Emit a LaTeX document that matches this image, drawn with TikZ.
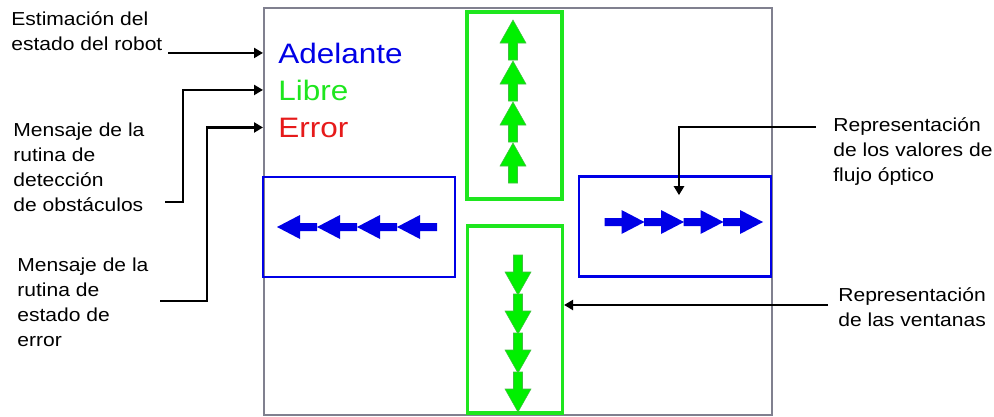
\documentclass[tikz,border=0pt]{standalone}
\usepackage{fontspec}
\setmainfont{Liberation Sans}[FakeStretch=1.12]
\usepackage{xcolor}
\definecolor{azulVent}{HTML}{0000E6}
\definecolor{verdeVent}{HTML}{1EE61E}
\definecolor{verdeFlecha}{HTML}{00F000}
\definecolor{rojoEstado}{HTML}{E61A1A}
\definecolor{grisMarco}{HTML}{80808F}
\usetikzlibrary{arrows.meta}

\begin{document}
\begin{tikzpicture}[x=0.02cm, y=-0.02cm, >={Triangle[length=0.18cm,width=0.2cm]},
  conector/.style={->, line width=1.5pt},
  etiqueta/.style={align=left, anchor=base west, inner sep=0pt, font=\fontsize{10.7}{14.2}\selectfont},
  estado/.style={anchor=base west, inner xsep=0.3cm, inner ysep=0pt, font=\fontsize{16}{19}\selectfont},
  ventAzul/.style={draw=azulVent, line width=1.5pt, minimum width=3.84cm, minimum height=2cm},
  ventVerde/.style={draw=verdeVent, line width=1.8pt, minimum width=1.9cm, minimum height=3.74cm},
  flechaAzul/.style={fill=azulVent},
  flechaVerde/.style={fill=verdeFlecha, draw=green!50!gray, line width=0.3pt}]
  \useasboundingbox (0,0) rectangle (994,416);
  % pantalla
  \draw[grisMarco, line width=0.8pt] (264,8) rectangle (772,415);
  \node[estado, text=azulVent] (adelante) at (263,63) {Adelante};
  \node[estado, text=verdeVent] (libre) at (263,100) {Libre};
  \node[estado, text=rojoEstado] (error) at (263,137) {Error};
  % ventanas
  \node[ventVerde] (ventArriba) at (514.5,105.5) {};
  \node[ventVerde] (ventAbajo) at (515,319.5) {};
  \node[ventAzul] (ventIzq) at (359,227) {};
  \node[ventAzul] (ventDer) at (675,226.5) {};
  % flujo optico en cada ventana
  \foreach \k in {0,...,3} {
    \filldraw[flechaVerde] (513,{20+41*\k}) -- ++(13,23) -- ++(-8.5,0) -- ++(0,17) -- ++(-9,0) -- ++(0,-17) -- ++(-8.5,0) -- cycle;
    \filldraw[flechaVerde] (518,{295+39*\k}) -- ++(13,-23) -- ++(-8.5,0) -- ++(0,-17) -- ++(-9,0) -- ++(0,17) -- ++(-8.5,0) -- cycle;
    \fill[flechaAzul] ({277+40*\k},227) -- ++(23,-12) -- ++(0,8) -- ++(17,0) -- ++(0,8) -- ++(-17,0) -- ++(0,8) -- cycle;
    \fill[flechaAzul] ({763-39.5*\k},222) -- ++(-23,-12) -- ++(0,8) -- ++(-17,0) -- ++(0,8) -- ++(17,0) -- ++(0,8) -- cycle;
  }
  % etiquetas (anclas en la linea base de la ultima linea)
  \node[etiqueta] (lblEst) at (11,50) {Estimación del\\estado del robot};
  \node[etiqueta] (lblObs) at (13,211) {Mensaje de la\\rutina de\\detección\\de obstáculos};
  \node[etiqueta] (lblErr) at (17,346) {Mensaje de la\\rutina de\\estado de\\error};
  \node[etiqueta] (lblFlujo) at (833,181) {Representación\\de los valores de\\flujo óptico};
  \node[etiqueta] (lblVent) at (838,326) {Representación\\de las ventanas};
  \coordinate (iniEst) at (168,52);
  \coordinate (iniObs) at (165,202);
  \coordinate (iniErr) at (160,301);
  \coordinate (iniFlujo) at (816,127);
  \coordinate (iniVent) at (828,305);
  \draw[conector] (iniEst |- adelante.west) -- (adelante.west);
  \draw[conector] (iniObs) -- ++(18,0) |- (libre.west);
  \draw[conector] (iniErr) -- ++(47,0) |- (error.west);
  \draw[conector] (iniFlujo) -| ([xshift=0.08cm,yshift=-0.4cm]ventDer.north);
  \draw[conector] (iniVent) -- (iniVent -| ventAbajo.east);
\end{tikzpicture}
\end{document}
